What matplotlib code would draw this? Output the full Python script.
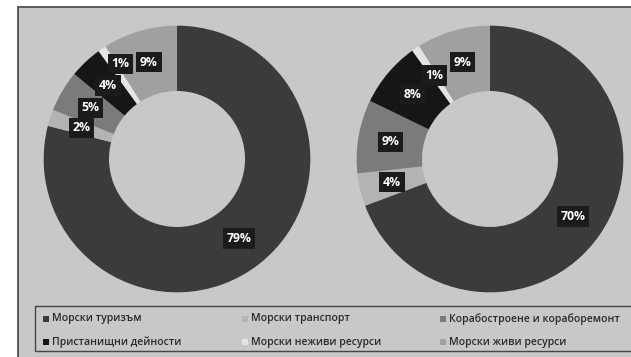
import numpy as np
import matplotlib.pyplot as plt
from matplotlib.patches import Rectangle

# Sector shares (%) for the two periods, clockwise from 12 o'clock
categories = ["Морски туризъм", "Морски транспорт", "Корабостроене и кораборемонт",
              "Пристанищни дейности", "Морски неживи ресурси", "Морски живи ресурси"]
left_values = [79, 2, 5, 4, 1, 9]
right_values = [70, 4, 9, 8, 1, 9]
colors = ["#3b3b3b", "#b3b3b3", "#7b7b7b", "#161616", "#e4e4e4", "#a0a0a0"]

plt.rcParams['font.family'] = ['Open Sans', 'DejaVu Sans']

W, H = 631, 357
fig = plt.figure(figsize=(W / 100, H / 100), dpi=100)
fig.patch.set_facecolor("white")


def frac(x0, y0, w, h):
    """Pixel box (top-left origin) -> figure fraction rect."""
    return [x0 / W, 1 - (y0 + h) / H, w / W, h / H]


# Panel background with frame
bg = fig.add_axes([0, 0, 1, 1])
bg.set_xlim(0, W)
bg.set_ylim(H, 0)
bg.axis("off")
bg.add_patch(Rectangle((18, 7), W, H, facecolor="#c8c8c8", edgecolor="#505050", lw=1.3))

RING = 0.49


def donut(center_x, values, label_shift=None):
    """Draw one ring; label_shift maps slice index -> (d_angle_deg, radius)."""
    label_shift = label_shift or {}
    R = 136
    ax = fig.add_axes(frac(center_x - R, 159 - R, 2 * R, 2 * R))
    wedges, _ = ax.pie(values, colors=colors, startangle=90, counterclock=False,
                       radius=1, wedgeprops=dict(width=RING, linewidth=0))
    for i, (w, v) in enumerate(zip(wedges, values)):
        d_ang, r = label_shift.get(i, (0.0, 1 - RING / 2))
        ang = np.deg2rad((w.theta1 + w.theta2) / 2 + d_ang)
        ax.text(r * np.cos(ang), r * np.sin(ang), f"{v}%",
                ha="center", va="center", color="white", fontsize=8.8, fontweight="bold",
                bbox=dict(boxstyle="square,pad=0.3", facecolor="#1b1b1b", edgecolor="none"))
    ax.set_xlim(-1.02, 1.02)
    ax.set_ylim(-1.02, 1.02)
    ax.set_aspect("equal")
    ax.axis("off")


donut(177, left_values, label_shift={4: (-3.5, 0.83)})
donut(490, right_values)

# Legend box
bg.add_patch(Rectangle((35, 306), 620, 45, facecolor="none", edgecolor="#454545", lw=1.0))
col_x = [46, 245, 443]
row_y = [319, 342]
for i, (name, c) in enumerate(zip(categories, colors)):
    x = col_x[i % 3]
    y = row_y[i // 3]
    bg.add_patch(Rectangle((x - 3, y - 3), 6, 6, facecolor=c, edgecolor="none"))
    bg.text(x + 6, y, name, ha="left", va="center", fontsize=7.6,
            fontweight="semibold", color="#2a2a2a")

fig.savefig("out.png", dpi=100, facecolor="white")
